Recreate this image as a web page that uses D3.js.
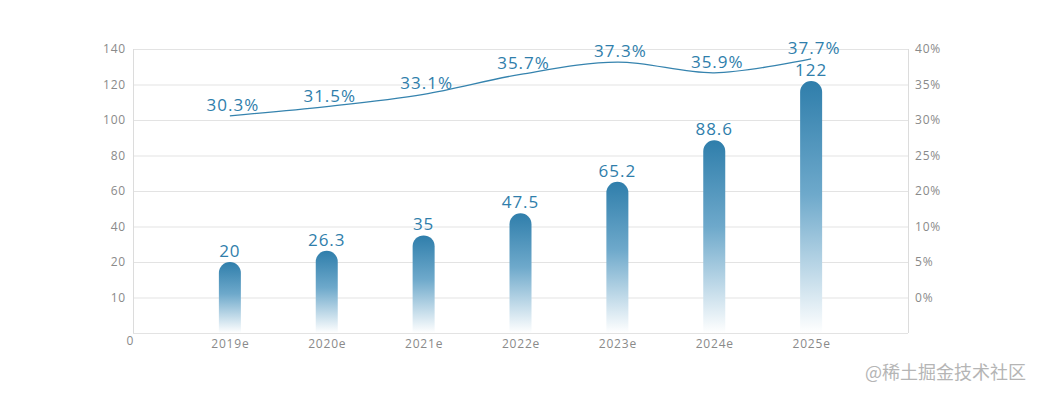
<!DOCTYPE html>
<html><head><meta charset="utf-8">
<script src="https://cdn.jsdelivr.net/npm/d3@7/dist/d3.min.js"></script>
<style>body{margin:0;background:#fff;}svg{display:block;}</style>
</head><body>
<svg id="c" width="1039" height="396"></svg>
<script>
const categories = ["2019e","2020e","2021e","2022e","2023e","2024e","2025e"];
const marketSize = [20, 26.3, 35, 47.5, 65.2, 88.6, 122];
const rateValues = [30.3, 31.5, 33.1, 35.7, 37.3, 35.9, 37.7];
const rateLabels = ["30.3%","31.5%","33.1%","35.7%","37.3%","35.9%","37.7%"];
const leftTickValues = [-20, 0, 20, 40, 60, 80, 100, 120, 140];
const leftTickLabels = ["0", "10", "20", "40", "60", "80", "100", "120", "140"];
const rightTickLabels = ["0%", "5%", "10%", "20%", "25%", "30%", "35%", "40%"];
const watermark = "@稀土掘金技术社区";

const svg = d3.select("#c");
const L = 133, R = 908, T = 49, B = 333;
const font = "'Open Sans', 'DejaVu Sans', sans-serif";

const x = d3.scalePoint().domain(categories).range([L, R]).padding(1);
const yL = d3.scaleLinear().domain([-20, 140]).range([B, T]);
const yR = d3.scaleLinear().domain([2, 39]).range([B, T]);

// gradient
const defs = svg.append("defs");
const g = defs.append("linearGradient").attr("id","barGrad").attr("x1",0).attr("y1",0).attr("x2",0).attr("y2",1);
g.append("stop").attr("offset","0%").attr("stop-color","#2f7eab");
g.append("stop").attr("offset","45%").attr("stop-color","#6ea9cb");
g.append("stop").attr("offset","100%").attr("stop-color","#ffffff");

// grid lines
svg.append("g").selectAll("line").data(leftTickValues).join("line")
  .attr("x1", L).attr("x2", R).attr("y1", d => yL(d) + 0.5).attr("y2", d => yL(d) + 0.5)
  .attr("stroke", "#e3e3e3").attr("stroke-width", 1);
// frame
svg.append("line").attr("x1", L + 0.5).attr("x2", L + 0.5).attr("y1", T).attr("y2", B).attr("stroke", "#dcdcdc");
svg.append("line").attr("x1", R + 0.5).attr("x2", R + 0.5).attr("y1", T).attr("y2", B).attr("stroke", "#dcdcdc");

// left axis labels
const la = svg.append("g").attr("transform", `translate(${L},0)`)
  .call(d3.axisLeft(yL).tickValues(leftTickValues.slice(1)).tickSize(0).tickPadding(7)
    .tickFormat((d) => leftTickLabels[leftTickValues.indexOf(d)]));
la.select(".domain").remove();
la.selectAll("text").attr("fill", "#8a8a8a").style("font-family", font).style("font-size", "12px").style("letter-spacing","0.8px");
// origin label
svg.append("text").attr("x", L - 3).attr("y", B + 12).attr("text-anchor","middle")
  .attr("fill","#8a8a8a").style("font-family", font).style("font-size","12px").text(leftTickLabels[0]);

// right axis labels
const ra = svg.append("g").attr("transform", `translate(${R},0)`)
  .call(d3.axisRight(yL).tickValues(leftTickValues.slice(1)).tickSize(0).tickPadding(7)
    .tickFormat((d, i) => rightTickLabels[i]));
ra.select(".domain").remove();
ra.selectAll("text").attr("fill", "#8a8a8a").style("font-family", font).style("font-size", "12px").style("letter-spacing","0.8px");

// x axis labels
const xa = svg.append("g").attr("transform", `translate(0,${B})`)
  .call(d3.axisBottom(x).tickSize(0).tickPadding(6));
xa.select(".domain").remove();
xa.selectAll("text").attr("fill", "#8a8a8a").style("font-family", font).style("font-size", "12px").style("letter-spacing","0.8px");

// bars with rounded tops
const bw = 22, r = bw / 2;
function barPath(d) {
  const cx = x(d.c), top = yL(d.v), bot = yL(-20);
  const x0 = cx - bw / 2, x1 = cx + bw / 2;
  return `M${x0},${bot}V${top + r}A${r},${r} 0 0 1 ${x1},${top + r}V${bot}Z`;
}
const barData = categories.map((c, i) => ({c, v: marketSize[i]}));
svg.append("g").selectAll("path").data(barData).join("path")
  .attr("d", barPath).attr("fill", "url(#barGrad)");
svg.append("g").selectAll("text").data(barData).join("text")
  .attr("x", d => x(d.c)).attr("y", d => yL(d.v) - 5).attr("text-anchor", "middle")
  .attr("fill", "#2f7eab").style("font-family", font).style("font-size", "17px").style("letter-spacing","1px")
  .text(d => d.v);

// line
const lineData = categories.map((c, i) => ({c, v: rateValues[i], l: rateLabels[i]}));
const line = d3.line().x(d => x(d.c)).y(d => yR(d.v)).curve(d3.curveCatmullRom.alpha(0.5));
svg.append("path").datum(lineData).attr("d", line).attr("fill", "none")
  .attr("stroke", "#3583ae").attr("stroke-width", 1.3);
svg.append("g").selectAll("text").data(lineData).join("text")
  .attr("x", d => x(d.c) + 3).attr("y", d => yR(d.v) - 5).attr("text-anchor", "middle")
  .attr("fill", "#2f7eab").style("font-family", font).style("font-size", "17px").style("letter-spacing","1px")
  .text(d => d.l);

// watermark
svg.append("text").attr("x", 1026).attr("y", 379).attr("text-anchor", "end")
  .attr("fill", "#b5b5b5").style("font-family", "'Noto Sans CJK SC', sans-serif").style("font-size", "18px")
  .text(watermark);
</script>
</body></html>
